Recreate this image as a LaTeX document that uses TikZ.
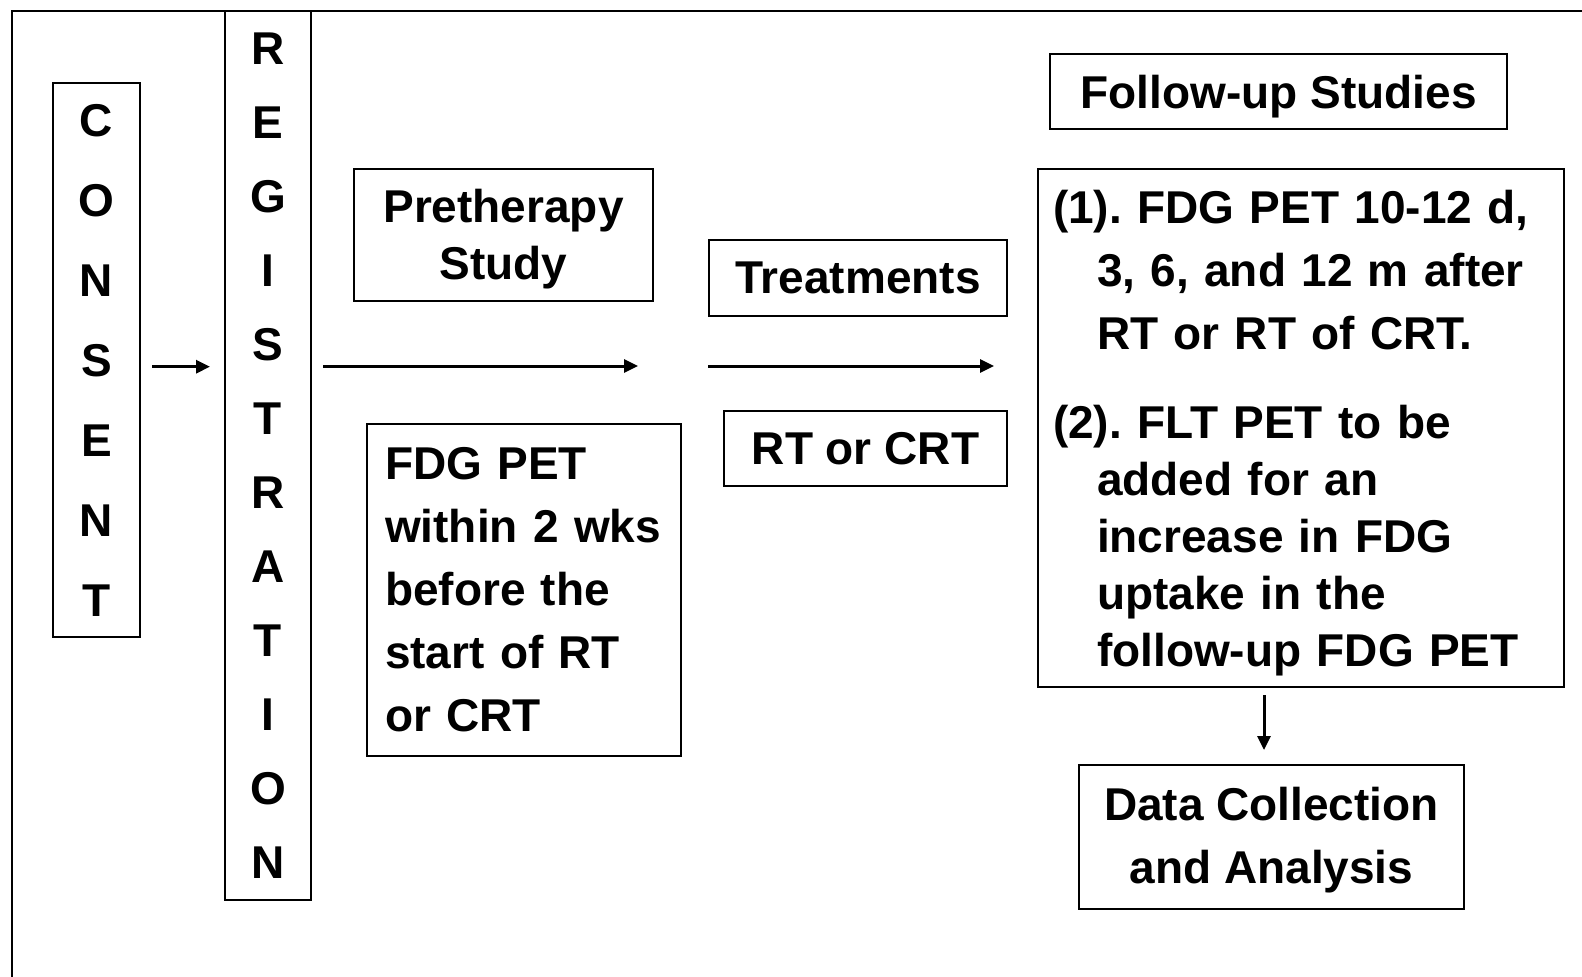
\documentclass[tikz,border=0pt]{standalone}
\usepackage{fontspec}
\setmainfont{Liberation Sans}
\usetikzlibrary{arrows.meta}
\frenchspacing
\begin{document}
\begin{tikzpicture}[x=1pt,y=-1pt,
  box/.style={draw=black,line width=2pt,inner sep=0pt,
    font=\bfseries\fontsize{46}{63}\selectfont\frenchspacing,align=center},
  arr/.style={line width=3pt,-{Triangle[length=14pt,width=13pt]}}]
\useasboundingbox (0,0) rectangle (1582,977);
\clip (0,0) rectangle (1582,977);
\fill[white] (0,0) rectangle (1582,977);
% outer frame (runs off the picture right and bottom)
\draw[line width=2pt] (12,1000) -- (12,11) -- (1600,11);

\node[box,minimum width=87pt,minimum height=554pt,
  font=\bfseries\fontsize{46}{80}\selectfont] (consent) at (96.5,360)
  {C\\O\\N\\S\\E\\N\\T};
\node[box,minimum width=86pt,minimum height=889pt,
  font=\bfseries\fontsize{46}{74}\selectfont] (reg) at (268,455.5)
  {R\\E\\G\\I\\S\\T\\R\\A\\T\\I\\O\\N};

\node[box,minimum width=299pt,minimum height=132pt,
  font=\bfseries\fontsize{46}{57.5}\selectfont] (pre) at (503.5,235)
  {\rule{0pt}{42pt}Pretherapy\\Study};
\node[box,minimum width=314pt,minimum height=332pt,text width=278pt,align=left]
  (fdg) at (524,590)
  {FDG PET\\within 2 wks\\before the\\start of RT\\or CRT};

\node[box,minimum width=298pt,minimum height=76pt] (treat) at (858,278) {Treatments};
\node[box,minimum width=283pt,minimum height=75pt] (rt) at (865.5,448.5) {RT or CRT};

\node[box,minimum width=457pt,minimum height=75pt,text depth=0pt] (fu) at (1278.5,91.5) {Follow-up Studies};
\node[box,minimum width=526pt,minimum height=518pt,text width=496pt,align=left]
  (big) at (1301,428)
  {\rule{0pt}{44pt}(1). FDG PET 10-12 d,\\
   \hspace*{44pt}3, 6, and 12 m after\\
   \hspace*{44pt}RT or RT of CRT.\\[25.7pt]
   (2). FLT PET to be\\[-6pt]
   \hspace*{44pt}added for an\\[-6pt]
   \hspace*{44pt}increase in FDG\\[-6pt]
   \hspace*{44pt}uptake in the\\[-6pt]
   \hspace*{44pt}follow-up FDG PET};
\node[box,minimum width=385pt,minimum height=144pt] (data) at (1271.5,837)
  {\rule{0pt}{40pt}Data Collection\\and Analysis};

\coordinate (c1) at (152,366.7);
\coordinate (c2) at (210,366.7);
\coordinate (p1) at (323,366);
\coordinate (p2) at (638,366);
\coordinate (t1) at (708,366);
\coordinate (t2) at (994,366);
\draw[arr] (c1) -- (c2);
\draw[arr] (p1) -- (p2);
\draw[arr] (t1) -- (t2);
\draw[arr,shorten <=7pt,shorten >=14pt] (big.south -| 1264,0) -- (data.north -| 1264,0);
\end{tikzpicture}
\end{document}
